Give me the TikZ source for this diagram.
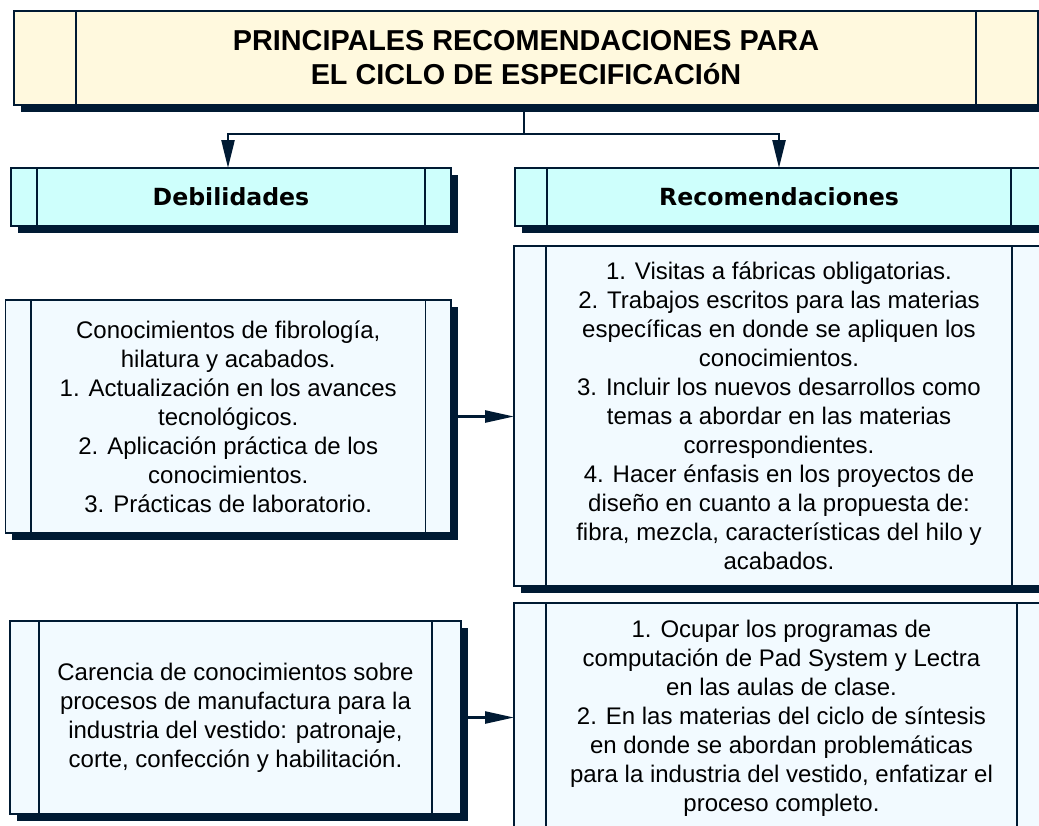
\documentclass[tikz,border=0pt]{standalone}
\usepackage{fontspec}
\setmainfont{Liberation Sans}
\newfontfamily\hdfont{DejaVu Sans}
\usetikzlibrary{arrows.meta,shadows}
\definecolor{navy}{RGB}{0,26,51}
\definecolor{titlefill}{RGB}{255,249,222}
\definecolor{headfill}{RGB}{206,255,252}
\definecolor{bodyfill}{RGB}{242,250,255}
\tikzset{
 box/.style={draw=navy, line width=1.3pt, rectangle, inner sep=0pt, outer sep=0pt, anchor=north west, align=center, text=black,
   drop shadow={shadow xshift=6.5pt, shadow yshift=-7pt, fill=navy, opacity=1}},
 titlebox/.style={box, fill=titlefill, font=\bfseries\fontsize{28.8}{34}\selectfont},
 headbox/.style={box, fill=headfill, font=\hdfont\bfseries\fontsize{23.6}{28}\selectfont},
 bodybox/.style={box, fill=bodyfill, font=\fontsize{24}{29}\selectfont},
 innerline/.style={draw=navy, line width=1.3pt},
 conn/.style={draw=navy, line width=2.5pt},
 arrowv/.style={conn, -{Triangle[length=28pt,width=13pt]}},
 arrowh/.style={conn, -{Triangle[length=29pt,width=12pt]}},
}
\newcommand\boxdividers[2]{%
  \draw[innerline] ([xshift=#2]#1.north west) -- ([xshift=#2]#1.south west);
  \draw[innerline] ([xshift=-#2]#1.north east) -- ([xshift=-#2]#1.south east);}
\begin{document}
\begin{tikzpicture}[x=1pt,y=-1pt]
\clip (0,0) rectangle (1039,825);
\fill[white] (0,0) rectangle (1039,825);

% title
\node[titlebox, minimum width=1024pt, minimum height=94pt] (title) at (14,11)
  {PRINCIPALES RECOMENDACIONES PARA\\EL CICLO DE ESPECIFICACIóN};
\boxdividers{title}{62pt}

% headers
\node[headbox, minimum width=440pt, minimum height=58pt] (deb) at (11,168) {Debilidades};
\boxdividers{deb}{26pt}
\node[headbox, minimum width=528pt, minimum height=58pt] (rec) at (515,168) {Recomendaciones};
\boxdividers{rec}{32pt}

% body boxes
\node[bodybox, minimum width=445.5pt, minimum height=233pt] (l1) at (5.5,300)
  {Conocimientos de fibrología,\\hilatura y acabados.\\1. Actualización en los avances\\tecnológicos.\\2. Aplicación práctica de los\\conocimientos.\\3. Prácticas de laboratorio.};
\boxdividers{l1}{25.5pt}

\node[bodybox, minimum width=530pt, minimum height=340pt] (r1) at (514,246)
  {1. Visitas a fábricas obligatorias.\\2. Trabajos escritos para las materias\\específicas en donde se apliquen los\\conocimientos.\\3. Incluir los nuevos desarrollos como\\temas a abordar en las materias\\correspondientes.\\4. Hacer énfasis en los proyectos de\\diseño en cuanto a la propuesta de:\\fibra, mezcla, características del hilo y\\acabados.};
\boxdividers{r1}{32pt}

\node[bodybox, minimum width=451pt, minimum height=193pt] (l2) at (10,621)
  {Carencia de conocimientos sobre\\procesos de manufactura para la\\industria del vestido: patronaje,\\corte, confección y habilitación.};
\boxdividers{l2}{29pt}

\node[bodybox, minimum width=535pt, minimum height=230pt] (r2) at (514,603)
  {1. Ocupar los programas de\\computación de Pad System y Lectra\\en las aulas de clase.\\2. En las materias del ciclo de síntesis\\en donde se abordan problemáticas\\para la industria del vestido, enfatizar el\\proceso completo.};
\boxdividers{r2}{32pt}

% connectors
\coordinate (jm) at (524,134);
\coordinate (jl) at (228,134);
\draw[conn] (title.south -| jm) -- (jm);
\draw[arrowv] (jm) -- (jl) -- (deb.north -| jl);
\draw[arrowv] (jm) -| (rec.north);
\draw[arrowh] ([xshift=6.5pt]l1.east) -- (l1.east -| r1.west);
\draw[arrowh] ([xshift=6.5pt]l2.east) -- (l2.east -| r2.west);
\end{tikzpicture}
\end{document}
